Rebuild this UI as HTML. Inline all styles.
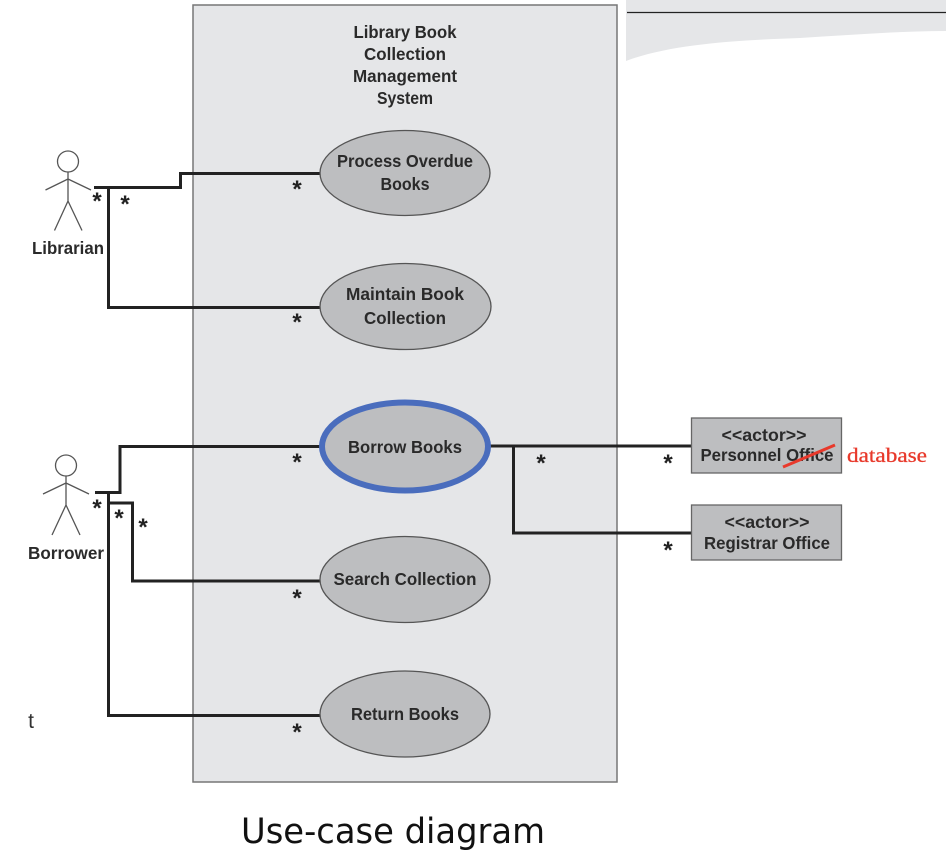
<!DOCTYPE html>
<html>
<head>
<meta charset="utf-8">
<style>
html,body{margin:0;padding:0;background:#fff;width:946px;height:852px;overflow:hidden}
svg{display:block;filter:blur(0.3px)}
text{font-family:"Liberation Sans",sans-serif;font-weight:bold;fill:#2a2a2a;text-anchor:middle;font-size:17.5px}
.s{font-family:"Liberation Sans",sans-serif;font-weight:bold;font-size:24px;fill:#222}
</style>
</head>
<body>
<svg width="946" height="852" viewBox="0 0 946 852" xmlns="http://www.w3.org/2000/svg">
<rect x="0" y="0" width="946" height="852" fill="#fff"/>
<!-- top right swoosh -->
<path d="M626 0H946V31C900 31 850 35 800 38C740 40 670 44 626 61Z" fill="#e5e6e8"/>
<line x1="627" y1="12.500" x2="946" y2="12.500" stroke="#222" stroke-width="1.300"/>
<!-- system box -->
<rect x="193" y="5" width="424" height="777" fill="#e5e6e8" stroke="#777" stroke-width="1.500"/>
<text x="405" y="38" textLength="103" lengthAdjust="spacingAndGlyphs">Library Book</text>
<text x="405" y="60" textLength="82" lengthAdjust="spacingAndGlyphs">Collection</text>
<text x="405" y="82" textLength="104" lengthAdjust="spacingAndGlyphs">Management</text>
<text x="405" y="104" textLength="56" lengthAdjust="spacingAndGlyphs">System</text>
<!-- connectors -->
<g fill="none" stroke="#222" stroke-width="3">
<path d="M94 187.500H180.500V173.500H322"/>
<path d="M108.500 187.500V307.500H322"/>
<path d="M95 492.500H120V446.500H322"/>
<path d="M108.500 492V715.500H322"/>
<path d="M108.500 503H132.500V581H322"/>
<path d="M490 446H692"/>
<path d="M513.500 446V533H692"/>
</g>
<!-- ellipses -->
<g fill="#bdbec0" stroke="#555" stroke-width="1.300">
<ellipse cx="405" cy="173" rx="85" ry="42.500"/>
<ellipse cx="405.500" cy="306.500" rx="85.500" ry="43"/>
<ellipse cx="405" cy="579.500" rx="85" ry="43"/>
<ellipse cx="405" cy="714" rx="85" ry="43"/>
</g>
<ellipse cx="405" cy="446.500" rx="83" ry="44" fill="#bdbec0" stroke="#4a6dbd" stroke-width="6"/>
<text x="405" y="167" textLength="136" lengthAdjust="spacingAndGlyphs">Process Overdue</text>
<text x="405" y="190" textLength="49" lengthAdjust="spacingAndGlyphs">Books</text>
<text x="405" y="300" textLength="118" lengthAdjust="spacingAndGlyphs">Maintain Book</text>
<text x="405" y="324" textLength="82" lengthAdjust="spacingAndGlyphs">Collection</text>
<text x="405" y="453" textLength="114" lengthAdjust="spacingAndGlyphs">Borrow Books</text>
<text x="405" y="585" textLength="143" lengthAdjust="spacingAndGlyphs">Search Collection</text>
<text x="405" y="720" textLength="108" lengthAdjust="spacingAndGlyphs">Return Books</text>
<!-- actors -->
<g fill="none" stroke="#555" stroke-width="1.300">
<circle cx="68" cy="161.500" r="10.500"/>
<path d="M68 172V201M45.500 190L68 179L91 190M54.500 230.500L68 201L82 230.500"/>
<circle cx="66" cy="465.500" r="10.500"/>
<path d="M66 476V505M43 494L66 483L89 494M52 535L66 505L80 535"/>
</g>
<text x="68" y="254" textLength="72" lengthAdjust="spacingAndGlyphs">Librarian</text>
<text x="66" y="559" textLength="76" lengthAdjust="spacingAndGlyphs">Borrower</text>
<!-- actor boxes -->
<g fill="#bdbec0" stroke="#666" stroke-width="1.300">
<rect x="691.500" y="418" width="150" height="55"/>
<rect x="691.500" y="505" width="150" height="55"/>
</g>
<text x="764" y="441" textLength="85" lengthAdjust="spacingAndGlyphs">&lt;&lt;actor&gt;&gt;</text>
<text x="767" y="461" textLength="133" lengthAdjust="spacingAndGlyphs">Personnel Office</text>
<text x="767" y="528" textLength="85" lengthAdjust="spacingAndGlyphs">&lt;&lt;actor&gt;&gt;</text>
<text x="767" y="549" textLength="126" lengthAdjust="spacingAndGlyphs">Registrar Office</text>
<line x1="783" y1="467" x2="835" y2="445" stroke="#e8392b" stroke-width="3"/>
<text x="887" y="462" textLength="80" lengthAdjust="spacingAndGlyphs" style="font-family:'Liberation Serif',serif;font-weight:normal;fill:#e8392b;stroke:#e8392b;stroke-width:0.300;font-size:20px">database</text>
<!-- multiplicity stars -->
<g class="stars">
<text class="s" x="97" y="209">*</text>
<text class="s" x="125" y="212">*</text>
<text class="s" x="297" y="197">*</text>
<text class="s" x="297" y="330">*</text>
<text class="s" x="297" y="470">*</text>
<text class="s" x="297" y="606">*</text>
<text class="s" x="297" y="740">*</text>
<text class="s" x="97" y="516">*</text>
<text class="s" x="119" y="526">*</text>
<text class="s" x="143" y="535">*</text>
<text class="s" x="541" y="471">*</text>
<text class="s" x="668" y="471">*</text>
<text class="s" x="668" y="558">*</text>
</g>
<text x="31" y="728" style="font-weight:normal;font-size:21px;fill:#333">t</text>
<text x="393" y="843" style="font-family:'DejaVu Sans',sans-serif;font-weight:normal;font-size:35px;fill:#111" textLength="304" lengthAdjust="spacingAndGlyphs">Use-case diagram</text>
</svg>
</body>
</html>
